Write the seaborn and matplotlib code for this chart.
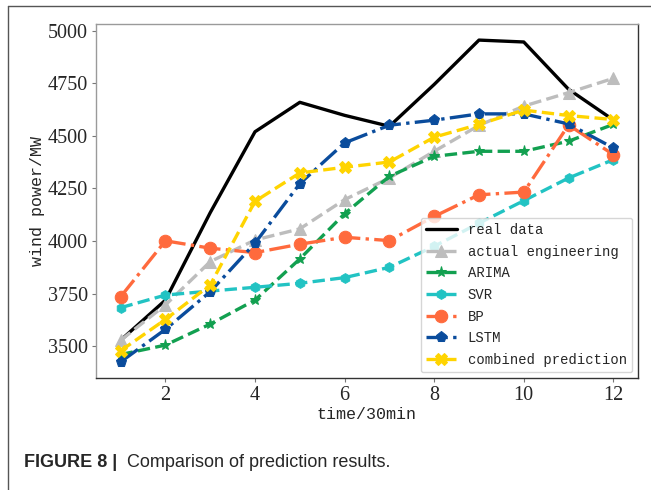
import matplotlib
matplotlib.use("Agg")
import numpy as np
import pandas as pd
import matplotlib.pyplot as plt
import seaborn as sns
from matplotlib.lines import Line2D

# ========== DATA ==========
steps = [1, 2, 3, 4, 5, 6, 7, 8, 9, 10, 11, 12]
real_data = [3528, 3719, 4135, 4520, 4660, 4598, 4546, 4745, 4956, 4947, 4722, 4576]
actual_engineering = [3528, 3696, 3902, 4005, 4058, 4197, 4300, 4427, 4550, 4642, 4706, 4774]
arima = [3460, 3505, 3605, 3719, 3915, 4130, 4308, 4403, 4427, 4427, 4475, 4555]
svr = [3683, 3743, 3762, 3780, 3799, 3826, 3875, 3975, 4085, 4192, 4300, 4387]
bp = [3735, 4001, 3966, 3945, 3985, 4018, 4002, 4117, 4220, 4233, 4552, 4411]
lstm = [3425, 3580, 3759, 3990, 4273, 4467, 4551, 4575, 4605, 4605, 4557, 4443]
combined = [3478, 3627, 3791, 4189, 4324, 4351, 4376, 4494, 4555, 4623, 4597, 4578]

series_names = ["real data", "actual engineering", "ARIMA", "SVR", "BP", "LSTM",
                "combined prediction"]
series_values = [real_data, actual_engineering, arima, svr, bp, lstm, combined]

# ========== STYLE ==========
styles = {
    "real data":           dict(color="#000000", linestyle="-",  marker=None, ms=0),
    "actual engineering":  dict(color="#bdbdbd", linestyle="--", marker="^", ms=8),
    "ARIMA":               dict(color="#12a050", linestyle="--", marker="*", ms=8),
    "SVR":                 dict(color="#22c3c3", linestyle="--", marker="h", ms=7),
    "BP":                  dict(color="#ff6a3d", linestyle="-.", marker="o", ms=9),
    "LSTM":                dict(color="#0a4c9c", linestyle="-.", marker="p", ms=8),
    "combined prediction": dict(color="#ffd400", linestyle="--", marker="X", ms=8),
}

sns.set_style("white")
plt.rcParams["font.family"] = ["Liberation Serif", "DejaVu Serif"]

fig = plt.figure(figsize=(6.51, 4.90), dpi=100)

# page frame lines (left and top)
fig.add_artist(Line2D([8 / 651, 8 / 651], [0, 1 - 6 / 490], color="#555555", lw=1.0))
fig.add_artist(Line2D([8 / 651, 1], [1 - 6 / 490, 1 - 6 / 490], color="#555555", lw=1.0))

ax = fig.add_axes([96 / 651, 1 - 378 / 490, (638 - 96) / 651, (378 - 24) / 490])

for name, vals in zip(series_names, series_values):
    st = styles[name]
    df = pd.DataFrame({"t": steps, "v": vals})
    sns.lineplot(data=df, x="t", y="v", ax=ax, color=st["color"],
                 linestyle=st["linestyle"], marker=st["marker"], markersize=st["ms"],
                 markeredgecolor=st["color"], linewidth=2.4, label=name)

ax.set_xticks([2, 4, 6, 8, 10, 12])
ax.set_yticks([3500, 3750, 4000, 4250, 4500, 4750, 5000])
ax.tick_params(axis="both", labelsize=14.5, length=3, width=0.8, color="#777777",
               left=True, bottom=True, pad=3)

ax.set_xlabel("time/30min", fontsize=12, family=["Liberation Mono", "DejaVu Sans Mono"],
              labelpad=1)
ax.set_ylabel("wind power/MW", fontsize=12, family=["Liberation Mono", "DejaVu Sans Mono"],
              labelpad=2)

for side in ["top", "left"]:
    ax.spines[side].set_color("#9a9a9a")
for side in ["right", "bottom"]:
    ax.spines[side].set_color("#333333")
for s in ax.spines.values():
    s.set_linewidth(1.0)

leg = ax.legend(loc="lower right", prop={"family": "Liberation Mono", "size": 10},
                frameon=True, framealpha=0.8, edgecolor="#cccccc", handlelength=2.2,
                labelspacing=0.55, borderpad=0.4, borderaxespad=0.4)

# caption
fig.text(24 / 651, 1 - 467 / 490, "FIGURE 8 |", fontsize=13, fontweight="bold",
         family="Liberation Sans", va="baseline")
fig.text(127 / 651, 1 - 467 / 490, "Comparison of prediction results.", fontsize=13,
         family="Liberation Sans", va="baseline")

fig.savefig("out.png", dpi=100)
